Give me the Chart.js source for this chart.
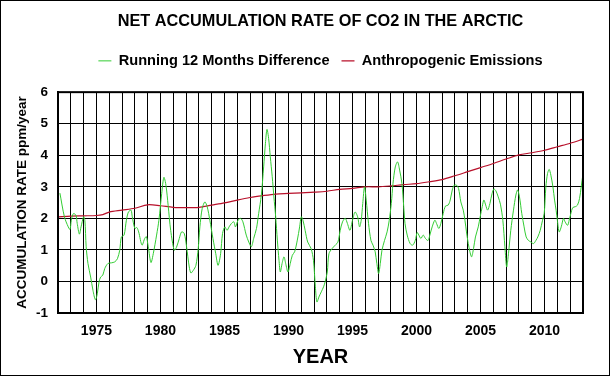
<!DOCTYPE html>
<html>
<head>
<meta charset="utf-8">
<title>Net accumulation rate of CO2 in the Arctic</title>
<script src="https://cdn.jsdelivr.net/npm/chart.js@4.4.1/dist/chart.umd.min.js"></script>
<style>
    html, body { margin: 0; padding: 0; background: #fff; }
    canvas { display: block; background: #fff; }
</style>
</head>
<body>
<canvas id="co2-chart" width="612" height="377"></canvas>
<script>
// Running 12 month difference (ppm/year)
const diffYears = [
    1972.15, 1972.5, 1972.8, 1972.94, 1973.04, 1973.2, 1973.4, 1973.5, 1973.67, 1973.8,
    1974.0, 1974.1, 1974.2, 1974.34, 1974.55, 1974.73, 1974.92, 1975.07, 1975.2, 1975.33,
    1975.5, 1975.65, 1975.9, 1976.17, 1976.43, 1976.64, 1976.82, 1976.95, 1977.16, 1977.34,
    1977.5, 1977.7, 1977.8, 1978.0, 1978.15, 1978.3, 1978.56, 1978.77, 1978.9, 1979.05,
    1979.26, 1979.44, 1979.7, 1979.88, 1980.1, 1980.27, 1980.43, 1980.6, 1980.8, 1981.08,
    1981.26, 1981.47, 1981.65, 1981.86, 1982.04, 1982.25, 1982.38, 1982.56, 1982.77, 1982.95,
    1983.08, 1983.26, 1983.47, 1983.65, 1983.86, 1984.1, 1984.32, 1984.5, 1984.7, 1984.85,
    1985.03, 1985.2, 1985.36, 1985.55, 1985.73, 1985.86, 1986.06, 1986.26, 1986.44, 1986.7,
    1986.9, 1987.1, 1987.28, 1987.5, 1987.67, 1987.88, 1988.06, 1988.2, 1988.32, 1988.45,
    1988.58, 1988.73, 1988.86, 1989.0, 1989.13, 1989.26, 1989.36, 1989.5, 1989.65, 1989.78,
    1989.96, 1990.14, 1990.3, 1990.48, 1990.69, 1990.87, 1991.0, 1991.13, 1991.3, 1991.5,
    1991.77, 1991.95, 1992.1, 1992.22, 1992.38, 1992.56, 1992.74, 1992.87, 1993.03, 1993.16,
    1993.4, 1993.65, 1993.86, 1994.04, 1994.22, 1994.43, 1994.6, 1994.8, 1995.0, 1995.2,
    1995.4, 1995.55, 1995.68, 1995.8, 1995.94, 1996.07, 1996.25, 1996.44, 1996.6, 1996.77,
    1996.9, 1997.04, 1997.17, 1997.3, 1997.5, 1997.7, 1997.87, 1998.03, 1998.16, 1998.34,
    1998.52, 1998.68, 1998.86, 1999.0, 1999.1, 1999.27, 1999.5, 1999.7, 1999.9, 2000.05,
    2000.18, 2000.34, 2000.52, 2000.7, 2000.9, 2001.04, 2001.22, 2001.43, 2001.56, 2001.74,
    2001.9, 2002.08, 2002.26, 2002.47, 2002.63, 2002.79, 2002.94, 2003.13, 2003.28, 2003.46,
    2003.65, 2003.78, 2003.9, 2004.04, 2004.17, 2004.3, 2004.45, 2004.6, 2004.82, 2004.97,
    2005.13, 2005.26, 2005.4, 2005.55, 2005.73, 2005.9, 2006.04, 2006.2, 2006.38, 2006.55,
    2006.74, 2006.9, 2007.04, 2007.18, 2007.36, 2007.57, 2007.76, 2007.89, 2008.04, 2008.22,
    2008.4, 2008.56, 2008.74, 2008.93, 2009.14, 2009.32, 2009.47, 2009.66, 2009.84, 2009.97,
    2010.1, 2010.23, 2010.36, 2010.49, 2010.65, 2010.78, 2010.9, 2011.0, 2011.14, 2011.3,
    2011.48, 2011.6, 2011.8, 2011.92, 2012.05, 2012.2, 2012.4, 2012.57, 2012.73, 2012.86,
    2013.0
];
const diffRates = [
    2.8, 2.05, 1.73, 1.65, 1.94, 2.15, 2.1, 1.84, 1.5, 1.73,
    2.05, 1.94, 1.1, 0.57, 0.14, -0.28, -0.58, -0.39, -0.02, 0.14,
    0.2, 0.41, 0.57, 0.59, 0.62, 0.72, 0.99, 1.41, 1.47, 1.94,
    2.2, 2.26, 2.05, 1.68, 1.71, 1.57, 1.15, 1.36, 1.42, 1.1,
    0.6, 0.88, 1.47, 1.94, 2.79, 3.3, 3.05, 2.42, 1.62, 0.99,
    1.09, 1.36, 1.57, 1.52, 1.1, 0.46, 0.27, 0.35, 0.51, 1.04,
    1.73, 2.31, 2.52, 2.37, 1.94, 1.36, 0.88, 0.51, 0.88, 1.52,
    1.73, 1.62, 1.73, 1.84, 1.89, 1.73, 1.94, 2.0, 1.89, 1.47,
    1.25, 1.1, 1.36, 1.68, 2.15, 2.74, 3.63, 4.38, 4.82, 4.53,
    3.95, 3.32, 2.68, 2.05, 1.31, 0.67, 0.3, 0.57, 0.78, 0.57,
    0.3, 0.57, 0.83, 0.94, 1.31, 1.73, 2.05, 1.94, 1.62, 1.25,
    1.04, 0.67, -0.17, -0.65, -0.49, -0.33, -0.17, 0.0, 0.3, 0.88,
    1.04, 1.15, 1.25, 1.62, 1.89, 2.0, 1.84, 1.62, 1.94, 2.2,
    2.05, 1.73, 1.94, 2.47, 3.0, 2.58, 1.84, 1.3, 1.15, 0.94,
    0.57, 0.25, 0.57, 0.99, 1.3, 1.57, 1.94, 2.47, 3.1, 3.63,
    3.79, 3.53, 3.1, 2.37, 1.84, 1.47, 1.2, 1.15, 1.3, 1.55,
    1.47, 1.36, 1.47, 1.36, 1.3, 1.47, 1.73, 1.94, 1.84, 1.68,
    1.84, 2.15, 2.39, 2.42, 2.58, 2.9, 3.05, 3.05, 2.95, 2.52,
    2.26, 1.94, 1.57, 1.2, 0.94, 0.78, 1.04, 1.41, 1.73, 2.05,
    2.37, 2.58, 2.42, 2.26, 2.47, 2.79, 2.93, 2.87, 2.68, 2.45,
    1.94, 1.1, 0.46, 0.88, 1.62, 2.26, 2.74, 2.9, 2.68, 2.15,
    1.73, 1.41, 1.3, 1.25, 1.2, 1.3, 1.41, 1.62, 1.94, 2.15,
    3.0, 3.42, 3.55, 3.37, 3.0, 2.58, 2.26, 1.94, 1.57, 1.73,
    2.0, 1.89, 1.78, 1.94, 2.15, 2.34, 2.37, 2.42, 2.63, 3.0,
    3.42
];

// Anthropogenic emissions expressed as ppm/year
const emissionYears = [
    1972, 1973, 1974, 1975, 1975.5, 1976, 1977, 1978, 1979, 1980,
    1981, 1982, 1983, 1984, 1985, 1986, 1987, 1988, 1989, 1990,
    1991, 1992, 1993, 1994, 1995, 1996, 1997, 1998, 1999, 2000,
    2001, 2002, 2003, 2004, 2005, 2006, 2007, 2008, 2009, 2010,
    2011, 2012, 2013
];
const emissionRates = [
    2.05, 2.07, 2.08, 2.09, 2.12, 2.2, 2.26, 2.32, 2.43, 2.4,
    2.35, 2.34, 2.35, 2.42, 2.49, 2.58, 2.66, 2.72, 2.77, 2.79,
    2.81, 2.83, 2.86, 2.92, 2.95, 3.0, 3.0, 3.03, 3.07, 3.1,
    3.16, 3.23, 3.35, 3.48, 3.61, 3.74, 3.88, 4.01, 4.08, 4.16,
    4.27, 4.38, 4.51
];

const yearMin = 1972;
const yearMax = 2013;
const rateMin = -1;
const rateMax = 6;

const FONT = '"Liberation Sans", Arial, sans-serif';

function toPoints(xs, ys) {
    return xs.map((x, i) => ({ x: x, y: ys[i] }));
}

// push the plot area down a bit below the legend
const legendGap = {
    id: 'legendGap',
    beforeInit(chart) {
        const origFit = chart.legend.fit;
        chart.legend.fit = function fit() {
            origFit.call(this);
            this.height += 14;
        };
    }
};

// thick box round the plot area and thin frame round the picture
const frame = {
    id: 'frame',
    afterDraw(chart) {
        const { ctx, chartArea: a } = chart;
        ctx.save();
        ctx.strokeStyle = '#000';
        ctx.lineWidth = 2;
        ctx.strokeRect(a.left, a.top, a.right - a.left, a.bottom - a.top);
        ctx.lineWidth = 1;
        ctx.strokeRect(0.5, 0.5, chart.width - 3, chart.height - 2);
        ctx.restore();
    }
};

new Chart(document.getElementById('co2-chart'), {
    type: 'line',
    data: {
        datasets: [
            {
                label: 'Running 12 Months Difference',
                data: toPoints(diffYears, diffRates),
                borderColor: '#33cc33',
                backgroundColor: '#33cc33',
                borderWidth: 1,
                pointRadius: 0,
                tension: 0.3
            },
            {
                label: 'Anthropogenic Emissions',
                data: toPoints(emissionYears, emissionRates),
                borderColor: '#b8102a',
                backgroundColor: '#b8102a',
                borderWidth: 1.2,
                pointRadius: 0,
                tension: 0.3
            }
        ]
    },
    options: {
        responsive: false,
        animation: false,
        layout: {
            padding: { left: 6, right: 29, top: 0, bottom: 6 }
        },
        scales: {
            x: {
                type: 'linear',
                min: yearMin,
                max: yearMax,
                afterFit(scale) { scale.height = 58; },
                ticks: {
                    stepSize: 1,
                    autoSkip: false,
                    maxRotation: 0,
                    padding: 10,
                    color: '#000',
                    font: { family: FONT, size: 14, weight: 'bold' },
                    callback: v => (v % 5 === 0 ? String(v) : '')
                },
                grid: { color: '#000', lineWidth: 1, drawTicks: false },
                border: { color: '#000', width: 2 },
                title: {
                    display: true,
                    text: 'YEAR',
                    color: '#000',
                    font: { family: FONT, size: 20, weight: 'bold' },
                    padding: { top: 0, bottom: 2 }
                }
            },
            y: {
                min: rateMin,
                max: rateMax,
                afterFit(scale) { scale.width = 52; },
                ticks: {
                    stepSize: 1,
                    padding: 10,
                    color: '#000',
                    font: { family: FONT, size: 13.5, weight: 'bold' }
                },
                grid: { color: '#000', lineWidth: 1, drawTicks: false },
                border: { color: '#000', width: 2 },
                title: {
                    display: true,
                    text: 'ACCUMULATION RATE ppm/year',
                    color: '#000',
                    font: { family: FONT, size: 13.5, weight: 'bold' },
                    padding: { top: 8, bottom: 0 }
                }
            }
        },
        plugins: {
            title: {
                display: true,
                text: 'NET ACCUMULATION RATE OF CO2 IN THE ARCTIC',
                color: '#000',
                fullSize: false,
                font: { family: FONT, size: 16.3, weight: 'bold' },
                padding: { top: 12, bottom: 10 }
            },
            legend: {
                fullSize: false,
                labels: {
                    color: '#000',
                    font: { family: FONT, size: 14.6, weight: 'bold' },
                    usePointStyle: true,
                    pointStyle: 'line',
                    pointStyleWidth: 13,
                    padding: 12
                }
            },
            tooltip: { enabled: false }
        }
    },
    plugins: [legendGap, frame]
});
</script>
</body>
</html>
